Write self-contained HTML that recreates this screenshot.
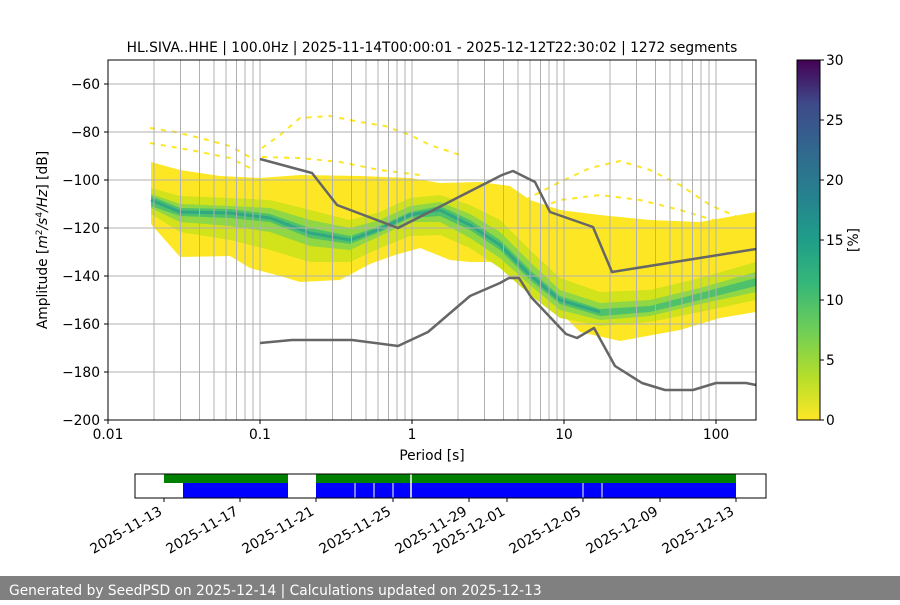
<!DOCTYPE html>
<html><head><meta charset="utf-8"><style>
body{margin:0;background:#fff;}
svg text{font-family:"DejaVu Sans","Liberation Sans",sans-serif;font-size:13.8px;fill:#000;}
</style></head><body>
<svg width="900" height="600" viewBox="0 0 900 600" xmlns="http://www.w3.org/2000/svg">
<defs>
<linearGradient id="vir" x1="0" y1="1" x2="0" y2="0">
<stop offset="0" stop-color="#fde725"/><stop offset="0.12" stop-color="#b5de2b"/><stop offset="0.25" stop-color="#6ece58"/><stop offset="0.38" stop-color="#35b779"/><stop offset="0.5" stop-color="#1f9e89"/><stop offset="0.62" stop-color="#26828e"/><stop offset="0.75" stop-color="#31688e"/><stop offset="0.88" stop-color="#3e4989"/><stop offset="1" stop-color="#440154"/>
</linearGradient>
<clipPath id="pc"><rect x="108" y="60" width="648" height="360"/></clipPath>
</defs>
<rect width="900" height="600" fill="#fff"/>
<g clip-path="url(#pc)">
<g fill="none" stroke="#fde725" stroke-width="2" stroke-dasharray="5 6">
<path d="M150,128 L175,132 L200,138 L230,146 L255,160"/>
<path d="M150,143 L190,150 L230,158 L250,168"/>
<path d="M262,148 L280,135 L300,118 L330,116 L360,122 L385,126 L410,135 L430,145 L460,155"/>
<path d="M262,157 L300,158 L340,162 L380,170 L420,175"/>
<path d="M525,200 L560,182 L590,168 L620,161 L650,170 L680,185 L710,205 L740,218"/>
<path d="M520,215 L560,200 L600,195 L640,200 L680,210 L720,222"/>
<path d="M520,230 L560,222 L600,228 L650,232 L700,236"/>
</g>
<path fill="#fde725" d="M151,162 L180,170 L220,176 L260,178 L300,175 L360,176 L410,178 L440,183 L480,182 L510,186 L530,200 L560,210 L600,215 L650,220 L700,222 L756,212 L756,312 L720,318 L680,330 L620,341 L580,332 L560,312 L530,282 L500,262 L470,262 L450,260 L420,248 L395,255 L370,264 L340,280 L300,282 L280,276 L250,268 L230,256 L180,257 L165,240 L151,224 Z"/>
<path fill="#d2e21b" d="M151,188 L180,196 L230,198 L270,200 L310,210 L350,220 L380,212 L410,198 L440,195 L470,205 L500,220 L530,250 L560,278 L600,292 L650,290 L700,278 L756,262 L756,300 L700,312 L650,322 L600,326 L560,318 L530,295 L500,268 L470,248 L440,235 L410,236 L380,248 L350,262 L310,262 L270,250 L230,240 L180,232 L151,214 Z"/>
<path fill="#8fd744" d="M151,194 L180,204 L230,206 L270,208 L310,220 L350,228 L380,220 L410,206 L440,202 L470,214 L500,232 L530,262 L560,290 L600,303 L650,300 L700,288 L756,272 L756,292 L700,304 L650,316 L600,320 L560,310 L530,285 L500,258 L470,238 L440,222 L410,222 L380,236 L350,250 L310,246 L270,232 L230,226 L180,222 L151,208 Z"/>
<path fill="#4fc16b" d="M151,196 L180,208 L230,209 L270,214 L310,228 L350,236 L380,226 L410,212 L440,206 L470,220 L500,240 L530,270 L560,296 L600,309 L650,306 L700,293 L756,278 L756,286 L700,300 L650,312 L600,316 L560,304 L530,280 L500,250 L470,230 L440,216 L410,218 L380,232 L350,244 L310,238 L270,222 L230,218 L180,216 L151,206 Z"/>
<path fill="none" stroke="#2fa883" stroke-width="3" d="M151,200 L180,212 L230,213 L270,218 L310,233 L350,240 L380,229 L410,215 L440,210 L470,225 L500,245 L530,275 L560,300 L600,312"/>
</g>
<g stroke="#b0b0b0" stroke-width="1">
<path d="M154,60V420M180.5,60V420M199.5,60V420M214,60V420M226,60V420M236.5,60V420M245,60V420M253,60V420M260,60V420M306,60V420M332.5,60V420M351.5,60V420M366,60V420M378,60V420M388.5,60V420M397,60V420M405,60V420M412,60V420M458,60V420M484.5,60V420M503.5,60V420M518,60V420M530,60V420M540.5,60V420M549,60V420M557,60V420M564,60V420M610,60V420M636.5,60V420M655.5,60V420M670,60V420M682,60V420M692.5,60V420M701,60V420M709,60V420M716,60V420"/>
<path d="M108,84H756M108,132H756M108,180H756M108,228H756M108,276H756M108,324H756M108,372H756"/>
</g>
<g fill="none" stroke="#666" stroke-width="2.5" stroke-linejoin="round">
<polyline points="260,159 312,173 337,205 398,228 502,175 513,171 535,182 550,212 593,227 612,272 756,249"/>
<polyline points="260,343 292,340 352,340 398,346 428,332 470,296 500,283 509,278 519,278 531,297 566,334 577,338 594,328 615,366 642,383 665,390 693,390 716,383 746,383 756,385"/>
</g>
<rect x="108" y="60" width="648" height="360" fill="none" stroke="#000" stroke-width="1"/>
<g stroke="#000" stroke-width="1">
<path d="M108,84h-4M108,132h-4M108,180h-4M108,228h-4M108,276h-4M108,324h-4M108,372h-4M108,420h-4"/>
<path d="M108,420v4M260,420v4M412,420v4M564,420v4M716,420v4"/>
</g>
<g text-anchor="end">
<text x="100" y="89">−60</text><text x="100" y="137">−80</text><text x="100" y="185">−100</text><text x="100" y="233">−120</text><text x="100" y="281">−140</text><text x="100" y="329">−160</text><text x="100" y="377">−180</text><text x="100" y="425">−200</text>
</g>
<g text-anchor="middle">
<text x="108" y="439">0.01</text><text x="260" y="439">0.1</text><text x="412" y="439">1</text><text x="564" y="439">10</text><text x="716" y="439">100</text>
<text x="432" y="460">Period [s]</text>
<text x="432" y="52">HL.SIVA..HHE | 100.0Hz | 2025-11-14T00:00:01 - 2025-12-12T22:30:02 | 1272 segments</text>
</g>
<text transform="translate(47,240) rotate(-90)" text-anchor="middle">Amplitude [<tspan font-style="italic">m</tspan><tspan font-size="9" dy="-5">2</tspan><tspan dy="5" font-style="italic">/s</tspan><tspan font-size="9" dy="-5">4</tspan><tspan dy="5" font-style="italic">/Hz</tspan>] [dB]</text>
<rect x="797" y="60" width="23" height="360" fill="url(#vir)" stroke="#000" stroke-width="1"/>
<g stroke="#000"><path d="M820,60h4M820,120h4M820,180h4M820,240h4M820,300h4M820,360h4M820,420h4"/></g>
<g><text x="826" y="65">30</text><text x="826" y="125">25</text><text x="826" y="185">20</text><text x="826" y="245">15</text><text x="826" y="305">10</text><text x="826" y="365">5</text><text x="826" y="425">0</text></g>
<text transform="translate(858,240) rotate(-90)" text-anchor="middle">[%]</text>
<rect x="164" y="474" width="124" height="9" fill="#008000"/>
<rect x="316" y="474" width="420" height="9" fill="#008000"/>
<rect x="183" y="483" width="105" height="15" fill="#0000ff"/>
<rect x="316" y="483" width="420" height="15" fill="#0000ff"/>
<g stroke="#fff" stroke-width="1"><path d="M355,483v15M374,483v15M393,483v15M583,483v15M602,483v15"/><path d="M411,474v24" stroke-width="1.5"/></g>
<rect x="135" y="474" width="631" height="24" fill="none" stroke="#000" stroke-width="1"/>
<g stroke="#000"><path d="M164,498v4M240,498v4M316,498v4M393,498v4M469,498v4M507,498v4M583,498v4M660,498v4M736,498v4"/></g>
<g text-anchor="end">
<text transform="translate(163,514) rotate(-30)">2025-11-13</text>
<text transform="translate(239,514) rotate(-30)">2025-11-17</text>
<text transform="translate(315,514) rotate(-30)">2025-11-21</text>
<text transform="translate(392,514) rotate(-30)">2025-11-25</text>
<text transform="translate(468,514) rotate(-30)">2025-11-29</text>
<text transform="translate(506,514) rotate(-30)">2025-12-01</text>
<text transform="translate(582,514) rotate(-30)">2025-12-05</text>
<text transform="translate(659,514) rotate(-30)">2025-12-09</text>
<text transform="translate(735,514) rotate(-30)">2025-12-13</text>
</g>
<rect x="0" y="576" width="900" height="24" fill="#808080"/>
<text x="9" y="595" style="fill:#fff">Generated by SeedPSD on 2025-12-14 | Calculations updated on 2025-12-13</text>
</svg>
</body></html>
